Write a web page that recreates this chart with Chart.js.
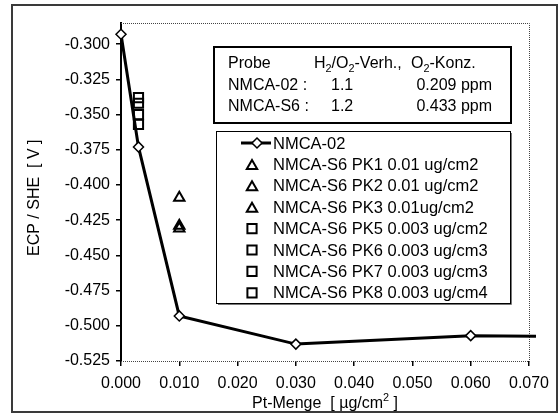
<!DOCTYPE html>
<html>
<head>
<meta charset="utf-8">
<script src="https://cdn.jsdelivr.net/npm/chart.js@4.4.0/dist/chart.umd.min.js"></script>
<style>
  html, body { margin: 0; padding: 0; background: #fff; }
  #wrap { position: relative; width: 560px; height: 414px; }
</style>
</head>
<body>
<div id="wrap"><canvas id="c"></canvas></div>
<script>
const FONT = '"Liberation Sans", Arial, Helvetica, sans-serif';

// Reference curve NMCA-02: Pt loading [µg/cm²] vs. ECP [V vs. SHE]
const nmca02Label = 'NMCA-02';
const nmca02X = [0.000, 0.003, 0.010, 0.030, 0.060, 0.0712];
const nmca02Y = [-0.293, -0.373, -0.493, -0.513, -0.507, -0.5075];

// Single measurements NMCA-S6
const pkLabels = [
  'NMCA-S6 PK1 0.01 ug/cm2',
  'NMCA-S6 PK2 0.01 ug/cm2',
  'NMCA-S6 PK3 0.01ug/cm2',
  'NMCA-S6 PK5 0.003 ug/cm2',
  'NMCA-S6 PK6 0.003 ug/cm3',
  'NMCA-S6 PK7 0.003 ug/cm3',
  'NMCA-S6 PK8 0.003 ug/cm4'
];
const pkX = [0.010, 0.010, 0.010, 0.003, 0.003, 0.003, 0.003];
const pkY = [-0.409, -0.429, -0.431, -0.338, -0.342, -0.350, -0.357];
const pkMarker = ['triangle', 'triangle', 'triangle', 'rect', 'rect', 'rect', 'rect'];

// Axis ticks
const xTicks = [0.000, 0.010, 0.020, 0.030, 0.040, 0.050, 0.060, 0.070];
const yTicks = [-0.525, -0.500, -0.475, -0.450, -0.425, -0.400, -0.375, -0.350, -0.325, -0.300];

// Test conditions table
const tableHead = ['Probe', 'H_2/O_2-Verh.,', 'O_2-Konz.'];
const tableRows = [
  ['NMCA-02 :', '1.1', '0.209 ppm'],
  ['NMCA-S6 :', '1.2', '0.433 ppm']
];

const yTitle = 'ECP / SHE  [ V ]';
const xTitle = 'Pt-Menge  [ \u00b5g/cm^2 ]';

const datasets = [{
  label: nmca02Label,
  data: nmca02X.map((x, i) => ({ x, y: nmca02Y[i] })),
  showLine: true,
  borderColor: '#000',
  borderWidth: 3,
  pointStyle: 'rectRot',
  pointRadius: nmca02X.map((x, i) => i === nmca02X.length - 1 ? 0 : 5),
  pointBorderWidth: 1.5,
  pointBackgroundColor: '#fff',
  pointBorderColor: '#000',
  clip: false,
  order: 1
}];
pkLabels.forEach((lab, i) => {
  datasets.push({
    label: lab,
    data: [{ x: pkX[i], y: pkY[i] }],
    showLine: false,
    pointStyle: pkMarker[i],
    pointRadius: pkMarker[i] === 'rect' ? 6.5 : 6,
    pointBorderWidth: 2,
    pointBackgroundColor: 'rgba(255,255,255,0)',
    pointBorderColor: '#000',
    order: 2
  });
});

// text with _x subscripts and ^x superscripts
function richText(ctx, str, x, y, size) {
  let cx = x;
  const parts = str.split(/([_^].)/).filter(s => s.length);
  for (const p of parts) {
    if (p[0] === '_' || p[0] === '^') {
      ctx.font = (size * 0.68) + 'px ' + FONT;
      const dy = p[0] === '_' ? size * 0.22 : -size * 0.42;
      ctx.fillText(p[1], cx, y + dy);
      cx += ctx.measureText(p[1]).width;
    } else {
      ctx.font = size + 'px ' + FONT;
      ctx.fillText(p, cx, y);
      cx += ctx.measureText(p).width;
    }
  }
  return cx - x;
}
function richWidth(ctx, str, size) {
  let w = 0;
  const parts = str.split(/([_^].)/).filter(s => s.length);
  for (const p of parts) {
    if (p[0] === '_' || p[0] === '^') {
      ctx.font = (size * 0.68) + 'px ' + FONT;
      w += ctx.measureText(p[1]).width;
    } else {
      ctx.font = size + 'px ' + FONT;
      w += ctx.measureText(p).width;
    }
  }
  return w;
}

function marker(ctx, style, x, y, r) {
  ctx.beginPath();
  if (style === 'triangle') {
    for (let k = 0; k < 3; k++) {
      const a = -Math.PI / 2 + k * 2 * Math.PI / 3;
      const px = x + Math.cos(a) * r, py = y + Math.sin(a) * r;
      k ? ctx.lineTo(px, py) : ctx.moveTo(px, py);
    }
    ctx.closePath();
  } else if (style === 'rect') {
    const s = r * Math.SQRT1_2;
    ctx.rect(x - s, y - s, 2 * s, 2 * s);
  } else {
    ctx.moveTo(x, y - r); ctx.lineTo(x + r, y); ctx.lineTo(x, y + r); ctx.lineTo(x - r, y);
    ctx.closePath();
  }
}

const decor = {
  id: 'decor',
  beforeDatasetsDraw(chart) {
    const { ctx, chartArea: a } = chart;
    ctx.save();
    ctx.strokeStyle = '#444';
    ctx.lineWidth = 1;
    ctx.setLineDash([1, 1]);
    ctx.beginPath();
    ctx.moveTo(a.left, a.top + 0.5); ctx.lineTo(a.right + 0.5, a.top + 0.5);
    ctx.lineTo(a.right + 0.5, a.bottom + 0.5); ctx.lineTo(a.left, a.bottom + 0.5);
    ctx.stroke();
    ctx.restore();
  },
  afterDraw(chart) {
    const { ctx, chartArea: a } = chart;
    ctx.save();
    // outer frame
    ctx.strokeStyle = '#3a3a3a';
    ctx.lineWidth = 2;
    ctx.strokeRect(12, 5, 545, 407);

    ctx.fillStyle = '#000';
    ctx.textBaseline = 'alphabetic';

    // axis titles
    ctx.save();
    ctx.translate(39, 256);
    ctx.rotate(-Math.PI / 2);
    ctx.font = '16px ' + FONT;
    ctx.textAlign = 'left';
    ctx.fillText(yTitle, 0, 0);
    ctx.restore();

    const xw = richWidth(ctx, xTitle, 16);
    ctx.textAlign = 'left';
    richText(ctx, xTitle, (a.left + a.right) / 2 - xw / 2, 408, 16);

    // conditions table
    ctx.fillStyle = '#fff';
    ctx.fillRect(214, 47, 297, 76);
    ctx.strokeStyle = '#000';
    ctx.lineWidth = 2;
    ctx.strokeRect(214, 47, 297, 76);
    ctx.fillStyle = '#000';
    richText(ctx, tableHead[0], 228, 68, 16);
    richText(ctx, tableHead[1], 314, 68, 16);
    richText(ctx, tableHead[2], 411, 68, 16);
    tableRows.forEach((row, i) => {
      const y = 89.5 + i * 21.3;
      richText(ctx, row[0], 228, y, 16);
      richText(ctx, row[1], 331, y, 16);
      ctx.font = '16px ' + FONT;
      ctx.textAlign = 'right';
      ctx.fillText(row[2], 492, y);
      ctx.textAlign = 'left';
    });

    // series legend
    ctx.fillStyle = '#fff';
    ctx.fillRect(216.5, 131.5, 294, 172);
    ctx.strokeStyle = '#000';
    ctx.lineWidth = 1;
    ctx.strokeRect(216.5, 131.5, 294, 172);
    ctx.strokeStyle = '#777';
    ctx.beginPath();
    ctx.moveTo(218, 304.5); ctx.lineTo(511.5, 304.5); ctx.lineTo(511.5, 133);
    ctx.stroke();

    chart.data.datasets.forEach((ds, i) => {
      const y = 143 + i * 21.4;
      ctx.strokeStyle = '#000';
      if (ds.showLine) {
        ctx.lineWidth = 3;
        ctx.beginPath(); ctx.moveTo(241, y); ctx.lineTo(271, y); ctx.stroke();
        ctx.lineWidth = 1.5;
        ctx.fillStyle = '#fff';
        marker(ctx, 'diamond', 257, y, 5);
        ctx.fill(); ctx.stroke();
      } else {
        ctx.lineWidth = 2;
        marker(ctx, ds.pointStyle, 252, ds.pointStyle === 'triangle' ? y + 1.5 : y, ds.pointRadius);
        ctx.stroke();
      }
      ctx.fillStyle = '#000';
      ctx.font = '16.5px ' + FONT;
      ctx.textBaseline = 'middle';
      ctx.fillText(ds.label, 273, y + 1);
      ctx.textBaseline = 'alphabetic';
    });
    ctx.restore();
  }
};

new Chart(document.getElementById('c'), {
  type: 'scatter',
  data: { datasets },
  options: {
    responsive: true,
    maintainAspectRatio: false,
    animation: false,
    events: [],
    layout: { padding: { left: 0, top: 23, right: 31, bottom: 0 } },
    plugins: { legend: { display: false }, tooltip: { enabled: false } },
    scales: {
      x: {
        type: 'linear',
        min: 0, max: 0.07,
        afterFit(s) { s.height = 53; },
        afterBuildTicks(s) { s.ticks = xTicks.map(v => ({ value: v })); },
        border: { display: false },
        grid: { drawOnChartArea: false, drawTicks: true, tickLength: 5, color: '#000', lineWidth: 1.5 },
        ticks: {
          padding: 8,
          color: '#000',
          font: { family: FONT, size: 16 },
          maxRotation: 0,
          autoSkip: false,
          callback: v => v.toFixed(3)
        }
      },
      y: {
        type: 'linear',
        min: -0.525, max: -0.285,
        afterFit(s) { s.width = 121; },
        afterBuildTicks(s) { s.ticks = yTicks.map(v => ({ value: v })); },
        border: { display: true, color: '#000', width: 2 },
        grid: { drawOnChartArea: false, drawTicks: true, tickLength: 5, color: '#000', lineWidth: 1.5 },
        ticks: {
          padding: 6,
          color: '#000',
          font: { family: FONT, size: 16 },
          autoSkip: false,
          callback: v => v.toFixed(3)
        }
      }
    }
  },
  plugins: [decor]
});
</script>
</body>
</html>
